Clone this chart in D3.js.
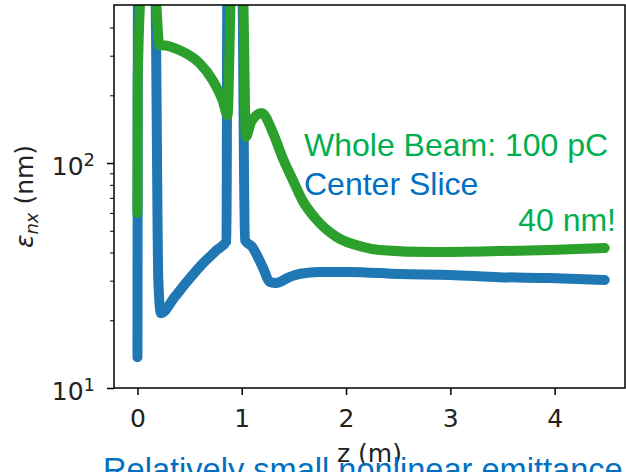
<!DOCTYPE html>
<html>
<head>
<meta charset="utf-8">
<script src="https://cdn.jsdelivr.net/npm/d3@7"></script>
<style>
  body { margin: 0; background: #fff; }
  svg { display: block; }
</style>
</head>
<body>
<div id="chart"></div>
<script>
// emittance along the beamline (nm vs z in m)
var zCenter    = [0.0, 0.005, 0.17, 0.20, 0.225, 0.36, 0.47, 0.62, 0.76, 0.854, 0.862, 1.005, 1.03, 1.10, 1.20, 1.27, 1.33, 1.45, 1.56, 1.75, 2.03, 2.51, 3.0, 3.47, 3.95, 4.48];
var emitCenter = [13.7, 600, 600, 30, 21.5, 25.5, 29.5, 35.5, 41.0, 45.0, 600, 600, 45.5, 42.4, 34.5, 29.6, 29.3, 31.0, 32.2, 32.8, 32.8, 32.1, 31.8, 31.1, 30.8, 30.2];

var zWhole    = [0.0, 0.002, 0.04, 0.165, 0.21, 0.24, 0.40, 0.595, 0.72, 0.816, 0.864, 0.90, 1.01, 1.04, 1.09, 1.19, 1.30, 1.39, 1.49, 1.58, 1.72, 1.91, 2.16, 2.32, 2.83, 3.47, 3.95, 4.48];
var emitWhole = [60, 230, 600, 600, 334, 334, 318, 278, 234, 190, 163, 600, 600, 131, 152, 167, 136, 106, 84, 68.5, 55.8, 46.9, 42.4, 41.1, 40.2, 40.6, 41.1, 41.9];

var xTickValues = [0, 1, 2, 3, 4];
var yMajorTicks = [10, 100];
var yMinorTicks = [20, 30, 40, 50, 60, 70, 80, 90, 200, 300, 400];

var notes = ["Whole Beam: 100 pC", "Center Slice", "40 nm!"];
var footnote = "Relatively small nonlinear emittance";

var width = 626, height = 472;
var plotLeft = 114, plotRight = 625, plotTop = 5, plotBottom = 388;
var tickFont = "'DejaVu Sans', sans-serif";
var noteFont = "'Liberation Sans', Arial, sans-serif";

var svg = d3.select("#chart").append("svg")
    .attr("width", width)
    .attr("height", height);

var x = d3.scaleLinear().domain([-0.225, 4.675]).range([plotLeft, plotRight]);
var y = d3.scaleLog().domain([10, 504]).range([plotBottom, plotTop]);

svg.append("clipPath").attr("id", "plotclip")
  .append("rect")
    .attr("x", plotLeft).attr("y", plotTop)
    .attr("width", plotRight - plotLeft).attr("height", plotBottom - plotTop);

var line = d3.line()
    .x(function(d) { return x(d[0]); })
    .y(function(d) { return y(d[1]); })
    .curve(d3.curveMonotoneX);

var plot = svg.append("g").attr("clip-path", "url(#plotclip)");

plot.append("path")
    .datum(d3.zip(zCenter, emitCenter))
    .attr("d", line)
    .attr("fill", "none")
    .attr("stroke", "#1f77b4")
    .attr("stroke-width", 10)
    .attr("stroke-linejoin", "round")
    .attr("stroke-linecap", "round");

plot.append("path")
    .datum(d3.zip(zWhole, emitWhole))
    .attr("d", line)
    .attr("fill", "none")
    .attr("stroke", "#2ca02c")
    .attr("stroke-width", 10)
    .attr("stroke-linejoin", "round")
    .attr("stroke-linecap", "round");

// x axis
var xAxis = svg.append("g")
    .attr("transform", "translate(0," + plotBottom + ")")
    .call(d3.axisBottom(x).tickValues(xTickValues).tickSize(7).tickPadding(14).tickFormat(d3.format("d")));
xAxis.select(".domain").remove();
xAxis.selectAll(".tick line").attr("stroke", "#000").attr("stroke-width", 1.5);
xAxis.selectAll(".tick text")
    .attr("font-family", tickFont)
    .attr("font-size", 25)
    .attr("fill", "#222");

// y axis, log scale with minor ticks
var yAxis = svg.append("g")
    .attr("transform", "translate(" + plotLeft + ",0)")
    .call(d3.axisLeft(y).tickValues(yMajorTicks).tickSize(7).tickFormat(""));
yAxis.select(".domain").remove();
yAxis.selectAll(".tick line").attr("stroke", "#000").attr("stroke-width", 1.5);

var yMinor = svg.append("g")
    .attr("transform", "translate(" + plotLeft + ",0)")
    .call(d3.axisLeft(y).tickValues(yMinorTicks).tickSize(4).tickFormat(""));
yMinor.select(".domain").remove();
yMinor.selectAll(".tick line").attr("stroke", "#000").attr("stroke-width", 1);

yMajorTicks.forEach(function(v) {
  var t = svg.append("text")
      .attr("x", 95)
      .attr("y", y(v) + 12)
      .attr("text-anchor", "end")
      .attr("font-family", tickFont)
      .attr("font-size", 25)
      .attr("fill", "#222");
  t.append("tspan").text("10");
  t.append("tspan")
      .attr("dy", -9)
      .attr("font-size", 18)
      .text(Math.round(Math.log10(v)));
});

// frame
svg.append("rect")
    .attr("x", plotLeft).attr("y", plotTop)
    .attr("width", plotRight - plotLeft).attr("height", plotBottom - plotTop)
    .attr("fill", "none")
    .attr("stroke", "#000")
    .attr("stroke-width", 1.5);

// axis labels
var yl = svg.append("text")
    .attr("transform", "translate(33," + ((plotTop + plotBottom) / 2) + ") rotate(-90)")
    .attr("text-anchor", "middle")
    .attr("font-family", tickFont)
    .attr("font-size", 25)
    .attr("fill", "#222");
yl.append("tspan").attr("font-style", "italic").text("\u03b5");
yl.append("tspan").attr("font-style", "italic").attr("font-size", 18).attr("dy", 5).text("nx");
yl.append("tspan").attr("dy", -5).text(" (nm)");

svg.append("text")
    .attr("x", (plotLeft + plotRight) / 2)
    .attr("y", 462)
    .attr("text-anchor", "middle")
    .attr("font-family", tickFont)
    .attr("font-size", 25)
    .attr("fill", "#222")
    .text("z (m)");

// slide annotations
svg.append("text")
    .attr("x", 304).attr("y", 156)
    .attr("font-family", noteFont).attr("font-size", 32)
    .attr("fill", "#00b050")
    .text(notes[0]);
svg.append("text")
    .attr("x", 304).attr("y", 195)
    .attr("font-family", noteFont).attr("font-size", 32)
    .attr("fill", "#0070c0")
    .text(notes[1]);
svg.append("text")
    .attr("x", 616).attr("y", 231)
    .attr("text-anchor", "end")
    .attr("font-family", noteFont).attr("font-size", 32)
    .attr("fill", "#00b050")
    .text(notes[2]);

svg.append("text")
    .attr("x", 103).attr("y", 481)
    .attr("font-family", noteFont).attr("font-size", 32.6)
    .attr("fill", "#0070c0")
    .text(footnote);
</script>
</body>
</html>
